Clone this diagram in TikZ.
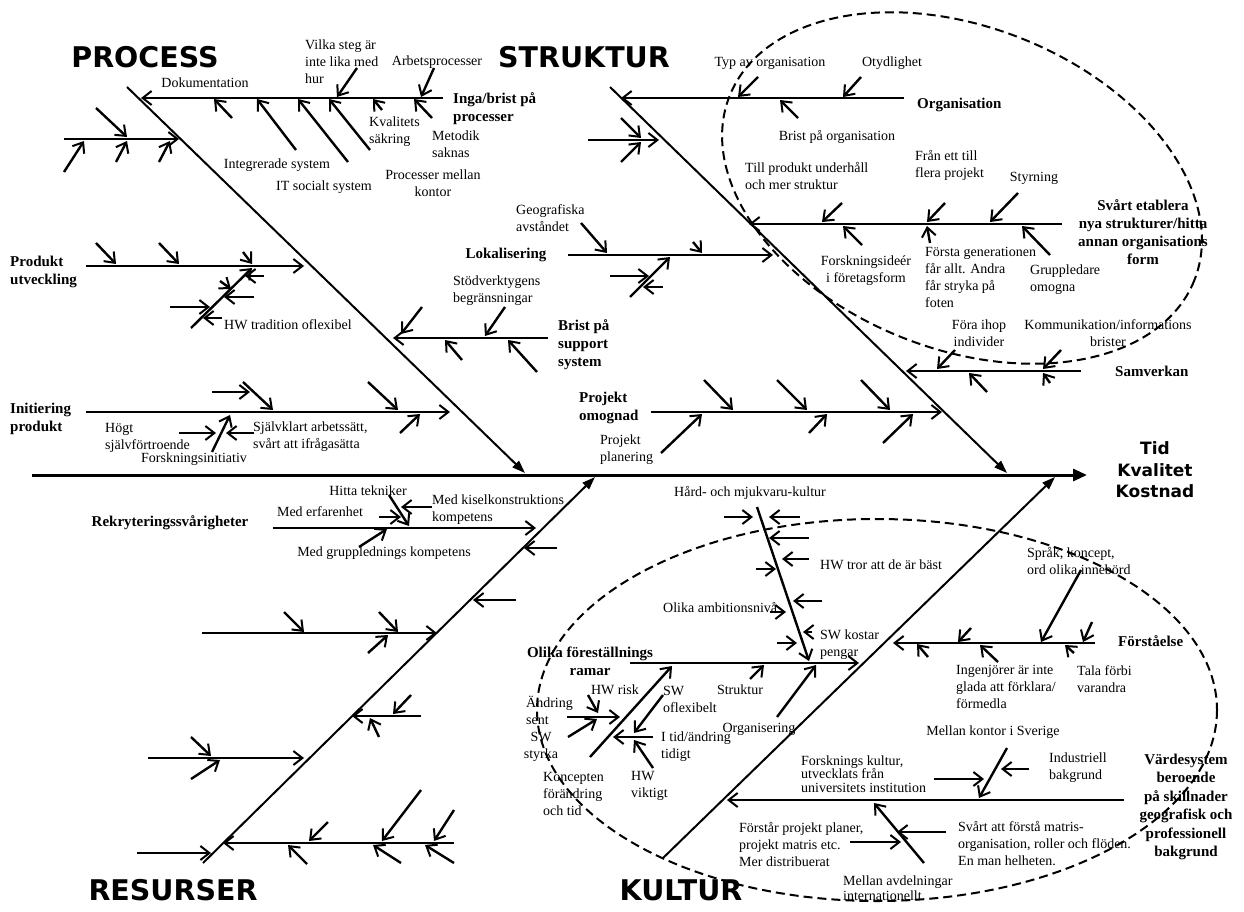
\documentclass[tikz,border=0pt]{standalone}
\usepackage{fontspec}
\setmainfont{Liberation Serif}
\newfontfamily\headfont{DejaVu Sans}
\usetikzlibrary{arrows.meta}

% a small cause arrow and a branch line, each drawn between two named coordinates
\newcommand\fbtwig[3]{\coordinate (#1t) at (#2); \coordinate (#1h) at (#3); \draw[twig] (#1t) -- (#1h);}
\newcommand\fbbranch[3]{\coordinate (#1t) at (#2); \coordinate (#1h) at (#3); \draw[branch] (#1t) -- (#1h);}

\tikzset{
  spine/.style={line width=3pt, -{Triangle[length=14pt,width=12pt]}},
  bone/.style={line width=2pt, -{Triangle[length=13pt,width=9pt]}},
  branch/.style={line width=2.6pt, -{Straight Barb[length=9pt,width=14pt,line width=2pt]}},
  twig/.style={line width=2.4pt, -{Straight Barb[length=9pt,width=14pt,line width=2pt]}},
  group/.style={line width=2pt, dash pattern=on 9pt off 5pt},
  lb/.style={font=\fontsize{14}{17}\selectfont, inner sep=0pt},
  bl/.style={font=\fontsize{15}{18}\selectfont\bfseries, inner sep=0pt},
  hd/.style={font=\headfont\bfseries\fontsize{28.5}{30}\selectfont, inner sep=0pt},
  res/.style={font=\headfont\bfseries\fontsize{17}{21.5}\selectfont, inner sep=0pt, align=center},
}

\begin{document}
\begin{tikzpicture}[x=1pt,y=-1pt]
\useasboundingbox (0,0) rectangle (1244,912);

% ---------- groupings ----------
\draw[group, rotate around={-21.6:(962,188)}] (962,188) ellipse [x radius=250, y radius=161];
\draw[group] (877,710) ellipse [x radius=340, y radius=191];

% ---------- headings and effect ----------
\node[hd] (tP) at (145,57) {PROCESS};
\node[hd] (tS) at (584,57) {STRUKTUR};
\node[hd] (tR) at (173,890) {RESURSER};
\node[hd] (tK) at (681,890) {KULTUR};
\node[res] (eff) at (1155,470) {Tid\\Kvalitet\\Kostnad};

% ---------- spine and main bones ----------
\coordinate (sp0) at (32,475);  \coordinate (sp1) at (1087,475);
\draw[spine] (sp0) -- (sp1);
\coordinate (P0) at (127,87);  \coordinate (P1) at (525,473);  \draw[bone] (P0) -- (P1);
\coordinate (S0) at (610,87);  \coordinate (S1) at (1007,473); \draw[bone] (S0) -- (S1);
\coordinate (R0) at (203,863); \coordinate (R1) at (595,477);  \draw[bone] (R0) -- (R1);
\coordinate (K0) at (663,858); \coordinate (K1) at (1055,477); \draw[bone] (K0) -- (K1);

% ================= PROCESS =================
\fbbranch{inga}{443,98}{141,98}
\node[bl, anchor=west, align=left] (nInga) at (453,109) {Inga/brist på\\processer};
\fbtwig{pa}{232,118}{214,99}
\fbtwig{pb}{296,150}{257,99}
\fbtwig{pc}{348,162}{298,99}
\fbtwig{pd}{370,150}{329,99}
\fbtwig{pe}{357,68}{337,97}
\fbtwig{pf}{382,110}{373,99}
\fbtwig{pg}{432,118}{414,99}
\fbtwig{ph}{434,68}{421,97}
\node[lb] (nDok) at (205,83) {Dokumentation};
\node[lb, anchor=west, align=left] (nVilka) at (305,62) {Vilka steg är\\inte lika med\\hur};
\node[lb] (nArb) at (437,62) {Arbetsprocesser};
\node[lb, anchor=west, align=left] (nKval) at (369,132) {Kvalitets\\säkring};
\node[lb, anchor=west, align=left] (nMet) at (432,144) {Metodik\\saknas};
\node[lb] (nInt) at (277,165) {Integrerade system};
\node[lb] (nIT) at (324,187) {IT socialt system};
\node[lb, align=center] (nPml) at (433,183) {Processer mellan\\kontor};

\fbbranch{p2}{64,139}{179,139}
\fbtwig{p2a}{96,108}{127,137}
\fbtwig{p2b}{64,172}{84,141}
\fbtwig{p2c}{116,162}{127,141}
\fbtwig{p2d}{159,162}{170,141}

\node[bl, anchor=west, align=left] (nProd) at (10,272) {Produkt\\utveckling};
\fbbranch{prod}{86,266}{304,266}
\fbtwig{pra}{96,243}{116,264}
\fbtwig{prb}{159,243}{179,264}
\fbtwig{prc}{243,252}{252,264}
\fbtwig{hw}{191,328}{252,268}
\fbtwig{hwa}{170,307}{210,307}
\fbtwig{hwb}{254,297}{224,297}
\fbtwig{hwc}{264,276}{245,276}
\fbtwig{hwd}{220,281}{231,289}
\fbtwig{hwe}{222,318}{203,318}
\node[lb, anchor=west] (nHW) at (224,325) {HW tradition oflexibel};

\node[bl, anchor=west, align=left] (nInit) at (10,419) {Initiering\\produkt};
\fbbranch{init}{86,412}{450,412}
\fbtwig{ia}{243,382}{273,410}
\fbtwig{ib}{212,392}{250,392}
\fbtwig{ic}{368,382}{398,410}
\fbtwig{id}{400,433}{420,414}
\fbtwig{fi}{212,452}{230,415}
\fbtwig{fia}{179,433}{216,433}
\fbtwig{fib}{254,433}{226,433}
\node[lb, anchor=west, align=left] (nHogt) at (105,438) {Högt\\självförtroende};
\node[lb] (nFi) at (194,459) {Forskningsinitiativ};
\node[lb, anchor=west, align=left] (nSjalv) at (253,437) {Självklart arbetssätt,\\svårt att ifrågasätta};

\fbbranch{brist}{548,338}{393,338}
\node[bl, anchor=west, align=left] (nBrist) at (558,345) {Brist på\\support\\system};
\fbtwig{ba}{422,307}{401,334}
\fbtwig{bb}{505,307}{485,336}
\fbtwig{bc}{462,360}{445,340}
\fbtwig{bd}{537,372}{508,340}
\node[lb, anchor=west, align=left] (nStod) at (453,291) {Stödverktygens\\begränsningar};

% ================= STRUKTUR =================
\node[bl] (nLok) at (506,255) {Lokalisering};
\fbbranch{lok}{568,255}{773,255}
\node[lb, anchor=west, align=left] (nGeo) at (516,218) {Geografiska\\avståndet};
\fbtwig{la}{581,223}{607,253}
\fbtwig{lb}{693,242}{702,253}
\fbtwig{lc}{630,297}{670,257}
\fbtwig{ld}{610,276}{649,276}
\fbtwig{le}{663,287}{643,287}

\fbbranch{org}{904,98}{621,98}
\node[bl, anchor=west] (nOrg) at (917,105) {Organisation};
\fbtwig{oa}{758,77}{738,97}
\fbtwig{ob}{861,77}{843,97}
\fbtwig{oc}{798,118}{780,100}
\node[lb] (nTyp) at (770,63) {Typ av organisation};
\node[lb] (nOty) at (892,63) {Otydlighet};
\node[lb] (nBpo) at (837,137) {Brist på organisation};

\fbbranch{s2}{588,140}{659,140}
\fbtwig{s2a}{621,118}{641,138}
\fbtwig{s2b}{621,162}{641,142}

\node[lb, anchor=west, align=left] (nTill) at (745,176) {Till produkt underhåll\\och mer struktur};
\node[lb, anchor=west, align=left] (nFran) at (915,165) {Från ett till\\flera projekt};
\node[lb] (nStyr) at (1034,178) {Styrning};

\fbbranch{sva}{1062,224}{749,224}
\node[bl, align=center] (nSva) at (1143,232) {Svårt etablera\\nya strukturer/hitta\\annan organisations\\form};
\fbtwig{sa}{842,203}{822,222}
\fbtwig{sb}{862,245}{843,226}
\fbtwig{sc}{945,203}{927,222}
\fbtwig{sd}{930,243}{927,226}
\fbtwig{se}{1018,193}{990,222}
\fbtwig{sf}{1050,255}{1022,226}
\node[lb, align=center] (nFid) at (866,271) {Forskningsideér\\i företagsform};
\node[lb, anchor=west, align=left] (nForsta) at (925,277) {Första generationen\\får allt. Andra\\får stryka på\\foten};
\node[lb, anchor=west, align=left] (nGrupp) at (1030,280) {Gruppledare\\omogna};
\node[lb, align=center] (nFora) at (979,333) {Föra ihop\\individer};
\node[lb, align=center] (nKomm) at (1108,333) {Kommunikation/informations\\brister};

\fbbranch{sam}{1081,371}{906,371}
\node[bl, anchor=west] (nSam) at (1115,371) {Samverkan};
\fbtwig{ma}{955,350}{937,369}
\fbtwig{mb}{1061,350}{1043,369}
\fbtwig{mc}{987,392}{969,373}
\fbtwig{md}{1050,383}{1043,373}

\node[bl, anchor=west, align=left] (nPom) at (579,408) {Projekt\\omognad};
\fbbranch{pom}{651,412}{942,412}
\fbtwig{qa}{704,380}{733,410}
\fbtwig{qb}{777,380}{807,410}
\fbtwig{qc}{861,380}{890,410}
\fbtwig{qd}{661,453}{702,414}
\fbtwig{qe}{809,433}{827,414}
\fbtwig{qf}{883,443}{913,414}
\node[lb, anchor=west, align=left] (nPpl) at (600,450) {Projekt\\planering};

% ================= RESURSER =================
\node[bl] (nRek) at (170,523) {Rekryteringssvårigheter};
\fbbranch{rek}{273,528}{536,528}
\fbtwig{ra}{389,495}{409,526}
\fbtwig{rb}{432,507}{401,507}
\fbtwig{rc}{379,517}{401,517}
\fbtwig{rd}{359,547}{387,529}
\node[lb] (nHitta) at (368,491) {Hitta tekniker};
\node[lb] (nErf) at (320,512) {Med erfarenhet};
\node[lb, anchor=west, align=left] (nKis) at (432,510) {Med kiselkonstruktions\\kompetens};
\node[lb] (nGrl) at (384,553) {Med grupplednings kompetens};

\fbtwig{rx}{557,548}{524,548}
\fbtwig{ry}{516,600}{473,600}

\fbbranch{r2}{202,633}{437,633}
\fbtwig{r2a}{284,612}{304,632}
\fbtwig{r2b}{379,612}{398,632}
\fbtwig{r2c}{368,653}{388,635}

\fbbranch{r3}{421,716}{352,716}
\fbtwig{r3a}{411,695}{393,714}
\fbtwig{r3b}{379,737}{370,718}

\fbbranch{r4}{148,758}{304,758}
\fbtwig{r4a}{191,737}{211,756}
\fbtwig{r4b}{191,779}{220,760}

\fbbranch{r5}{454,843}{223,843}
\fbtwig{r5a}{328,822}{309,841}
\fbtwig{r5b}{421,790}{382,841}
\fbtwig{r5c}{454,810}{434,841}
\fbtwig{r5d}{307,864}{288,845}
\fbtwig{r5e}{401,863}{373,845}
\fbtwig{r5f}{454,863}{425,845}

\fbbranch{r6}{137,853}{211,853}

% ================= KULTUR =================
\node[lb] (nHard) at (750,493) {Hård- och mjukvaru-kultur};
\fbtwig{hk}{757,507}{809,661}
\fbtwig{hka}{724,517}{753,517}
\fbtwig{hkb}{800,517}{769,517}
\fbtwig{hkc}{809,538}{769,538}
\fbtwig{hkd}{809,559}{782,559}
\fbtwig{hke}{756,569}{776,569}
\fbtwig{hkf}{822,601}{793,601}
\fbtwig{hkg}{770,612}{786,612}
\fbtwig{hkh}{812,632}{803,632}
\fbtwig{hki}{777,643}{797,643}
\node[lb, anchor=west] (nHWt) at (820,565) {HW tror att de är bäst};
\node[lb, anchor=west] (nAmb) at (663,607) {Olika ambitionsnivå};
\node[lb, anchor=west, align=left] (nSWk) at (820,645) {SW kostar\\pengar};

\fbbranch{ol}{630,663}{859,663}
\node[bl, align=center] (nOl) at (590,661) {Olika föreställnings\\ramar};
\fbtwig{oa2}{750,679}{764,665}
\fbtwig{ob2}{777,717}{816,665}
\fbtwig{kc}{590,757}{672,666}
\fbtwig{kca}{567,717}{620,717}
\fbtwig{kcb}{588,695}{598,713}
\fbtwig{kcc}{568,737}{597,719}
\fbtwig{kcd}{653,737}{613,737}
\fbtwig{kce}{663,695}{634,733}
\fbtwig{kcf}{653,768}{634,740}
\node[lb] (nHWr) at (615,690) {HW risk};
\node[lb, anchor=west, align=left] (nAnd) at (526,710) {Ändring\\sent};
\node[lb, align=center] (nSWs) at (541,747) {SW\\styrka};
\node[lb, anchor=west, align=left] (nKonc) at (543,794) {Koncepten\\förändring\\och tid};
\node[lb, anchor=west, align=left] (nHWv) at (631,786) {HW\\viktigt};
\node[lb, anchor=west, align=left] (nSWo) at (663,699) {SW\\oflexibelt};
\node[lb, anchor=west, align=left] (nItid) at (661,747) {I tid/ändring\\tidigt};
\node[lb] (nStr) at (740,690) {Struktur};
\node[lb] (nOrgs) at (759,729) {Organisering};

\fbbranch{fst}{1095,643}{893,643}
\node[bl, anchor=west] (nFst) at (1118,641) {Förståelse};
\fbtwig{fa}{971,628}{958,642}
\fbtwig{fb}{1081,570}{1041,642}
\fbtwig{fc}{1092,622}{1083,642}
\fbtwig{fd}{928,657}{917,644}
\fbtwig{fe}{998,662}{980,645}
\fbtwig{ff}{1074,653}{1065,645}
\node[lb, anchor=west, align=left] (nSpr) at (1027,561) {Språk, koncept,\\ord olika innebörd};
\node[lb, anchor=west, align=left] (nIng) at (956,687) {Ingenjörer är inte\\glada att förklara/\\förmedla};
\node[lb, anchor=west, align=left] (nTala) at (1077,679) {Tala förbi\\varandra};

\fbbranch{vd}{1124,800}{727,800}
\node[bl, align=center, font=\fontsize{15}{18.4}\selectfont\bfseries] (nVd) at (1186,807) {Värdesystem\\beroende\\på skillnader\\geografisk och\\professionell\\bakgrund};
\fbtwig{va}{1007,748}{979,798}
\fbtwig{vb}{934,779}{984,779}
\fbtwig{vc}{1029,769}{1001,769}
\node[lb] (nMks) at (993,732) {Mellan kontor i Sverige};
\node[lb, anchor=west, align=left] (nInd) at (1049,768) {Industriell\\bakgrund};
\node[lb, anchor=west, align=left, font=\fontsize{14}{13.5}\selectfont] (nFk) at (801,774) {Forsknings kultur,\\utvecklats från\\universitets institution};
\fbtwig{vx}{924,863}{874,803}
\fbtwig{vy}{850,842}{901,842}
\fbtwig{vz}{946,832}{897,832}
\node[lb, anchor=west, align=left] (nFpp) at (739,844) {Förstår projekt planer,\\projekt matris etc.\\Mer distribuerat};
\node[lb, anchor=west, align=left] (nSvf) at (958,844) {Svårt att förstå matris-\\organisation, roller och flöden.\\En man helheten.};
\node[lb, anchor=west, align=left, font=\fontsize{14}{15}\selectfont] (nMav) at (843,888) {Mellan avdelningar\\internationellt};

\end{tikzpicture}
\end{document}
